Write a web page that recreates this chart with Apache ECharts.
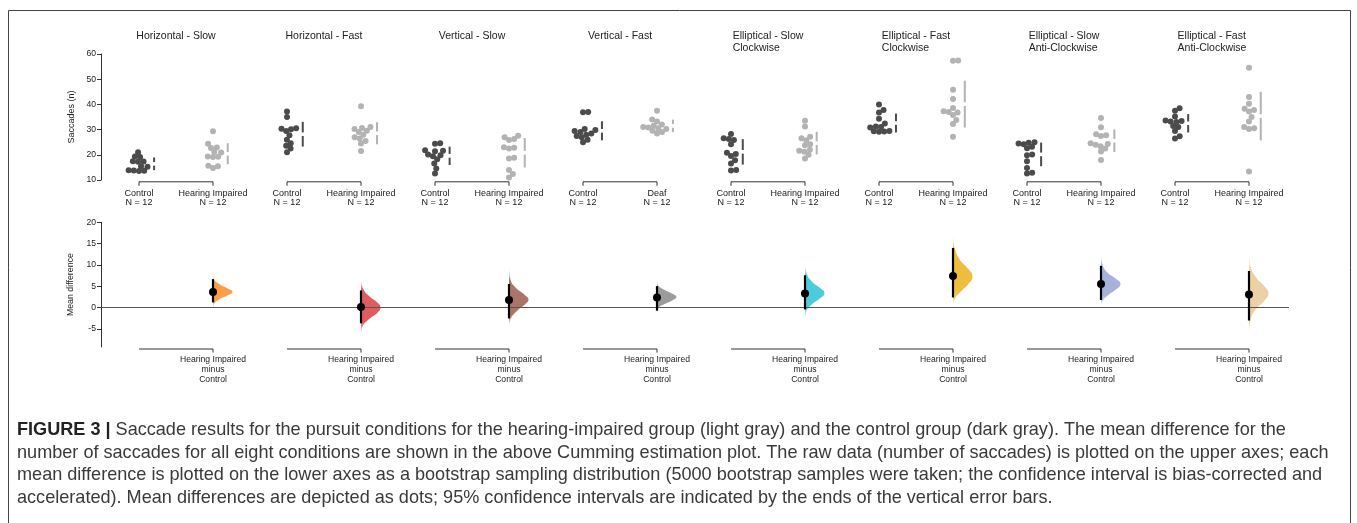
<!DOCTYPE html>
<html><head><meta charset="utf-8">
<script src="https://cdn.jsdelivr.net/npm/echarts@6/dist/echarts.min.js"></script>
<style>html,body{margin:0;padding:0;background:#fff;} #c{width:1357px;height:523px;}</style>
</head><body><div id="c"></div><script>
// ---------------- DATA ----------------
const panelTitles = ['Horizontal - Slow','Horizontal - Fast','Vertical - Slow','Vertical - Fast',
  'Elliptical - Slow\nClockwise','Elliptical - Fast\nClockwise','Elliptical - Slow\nAnti-Clockwise','Elliptical - Fast\nAnti-Clockwise'];
const controlNames = ['Control','Control','Control','Control','Control','Control','Control','Control'];
const testNames = ['Hearing Impaired','Hearing Impaired','Hearing Impaired','Deaf','Hearing Impaired','Hearing Impaired','Hearing Impaired','Hearing Impaired'];
const contrastLabel = 'Hearing Impaired\nminus\nControl';

const controlHS  = [21, 19.3, 19.1, 17.4, 17.3, 17.2, 15.5, 15.3, 13.9, 13.8, 13.7, 13.6];
const impairedHS = [29.3, 24.4, 22.9, 22.7, 21.1, 20.9, 19.3, 19.2, 19.1, 15.7, 15.5, 14.8];
const controlHF  = [37.2, 35, 30.5, 30.3, 30.1, 29.4, 27.8, 26, 24.6, 23.6, 22.5, 21];
const impairedHF = [39.3, 31, 30.6, 30.2, 29.5, 29, 28, 27, 26.5, 25.5, 24.5, 21.5];
const controlVS  = [24.6, 24.4, 21.8, 21.6, 21.4, 20.1, 19.8, 19.4, 18.2, 16.5, 14.6, 12.6];
const impairedVS = [27.6, 27, 26.3, 25.9, 23, 22.8, 22.5, 18.8, 18.5, 14, 12.4, 11];
const controlVF  = [37, 36.9, 30.2, 29.8, 29.4, 29, 28.5, 28, 27.5, 27, 26, 25];
const deafVF     = [37.5, 34, 33.2, 32, 31.5, 31, 30.8, 30.5, 30.2, 29.5, 29, 28.5];
const controlESC  = [28.3, 26.6, 26.3, 25.9, 24.2, 20.8, 20.3, 19.5, 17.8, 16.5, 14, 13.8];
const impairedESC = [33.5, 31.2, 27.2, 26.6, 25.8, 24.2, 23.8, 22, 21.6, 21.2, 20, 18.5];
const controlEFC  = [40, 37.8, 36.8, 34.3, 32.4, 31.2, 31, 30.8, 29.4, 29.3, 29.2, 29.1];
const impairedEFC = [57.4, 57.3, 45.8, 42.1, 38.6, 37.3, 37, 36.8, 35.8, 33.8, 32.2, 27.2];
const controlESA  = [25, 24.8, 24.5, 24.2, 23.2, 22.6, 20.1, 19.8, 17.4, 14.8, 12.9, 12.6];
const impairedESA = [34.6, 30.9, 28.2, 27.8, 27.5, 24.6, 24.3, 24, 23.4, 22.5, 21.3, 17.9];
const controlEFA  = [38.5, 37.5, 35.2, 33.6, 33.4, 33.2, 33, 31.4, 31, 29.4, 27.4, 26.5];
const impairedEFA = [54.5, 42.9, 40.3, 38.3, 37.8, 37.2, 35, 33.2, 31, 30.5, 30.2, 13.4];

const controlGroups = [controlHS, controlHF, controlVS, controlVF, controlESC, controlEFC, controlESA, controlEFA];
const testGroups = [impairedHS, impairedHF, impairedVS, deafVF, impairedESC, impairedEFC, impairedESA, impairedEFA];

const diffMeans = [3.7, 0.15, 1.8, 2.4, 3.3, 7.4, 5.55, 3.1];
const ciLow  = [1.25, -3.65, -2.5, -0.7, -0.4, 2.4, 1.8, -3.0];
const ciHigh = [6.7, 4.05, 5.55, 5.05, 7.6, 14.0, 9.8, 8.6];

// bootstrap distributions: [mean difference, relative density]
const violinHS  = [[8.0,0],[6.6,0.06],[5.5,0.34],[4.5,0.76],[3.7,1],[2.9,0.76],[2.0,0.34],[1.0,0.07],[-0.5,0]];
const violinHF  = [[7.0,0],[4.6,0.09],[2.6,0.44],[1.2,0.84],[0.1,1],[-1.2,0.84],[-2.6,0.44],[-4.3,0.09],[-6.4,0]];
const violinVS  = [[9.6,0],[6.6,0.07],[4.6,0.36],[3.1,0.78],[1.9,1],[0.7,0.8],[-0.7,0.42],[-2.6,0.09],[-4.8,0]];
const violinVF  = [[6.5,0],[5.1,0.09],[4.1,0.42],[3.2,0.82],[2.5,1],[1.7,0.78],[0.8,0.36],[-0.1,0.07],[-1.7,0]];
const violinESC = [[10.4,0],[8.1,0.07],[6.1,0.36],[4.6,0.78],[3.4,1],[2.2,0.78],[0.8,0.36],[-0.8,0.07],[-2.9,0]];
const violinEFC = [[17.4,0],[14.2,0.07],[11.2,0.36],[9.1,0.78],[7.3,1],[5.5,0.78],[3.6,0.36],[1.7,0.07],[-0.2,0]];
const violinESA = [[12.8,0],[10.2,0.07],[8.1,0.36],[6.7,0.78],[5.5,1],[4.3,0.78],[2.9,0.36],[1.4,0.07],[0.2,0]];
const violinEFA = [[12.8,0],[9.8,0.07],[7.1,0.36],[5.1,0.78],[3.3,1],[1.6,0.78],[-0.3,0.36],[-2.9,0.07],[-7.2,0]];
const violinProfiles = [violinHS, violinHF, violinVS, violinVF, violinESC, violinEFC, violinESA, violinEFA];

const upperTicks = [10, 20, 30, 40, 50, 60];
const lowerTicks = [-5, 0, 5, 10, 15, 20];

const captionLines = [
  '{b|FIGURE 3 |} Saccade results for the pursuit conditions for the hearing-impaired group (light gray) and the control group (dark gray). The mean difference for the',
  'number of saccades for all eight conditions are shown in the above Cumming estimation plot. The raw data (number of saccades) is plotted on the upper axes; each',
  'mean difference is plotted on the lower axes as a bootstrap sampling distribution (5000 bootstrap samples were taken; the confidence interval is bias-corrected and',
  'accelerated). Mean differences are depicted as dots; 95% confidence intervals are indicated by the ends of the vertical error bars.'
];

// ---------------- STYLE / LAYOUT ----------------
const FONT = '"Liberation Sans", Arial, Helvetica, sans-serif';
const diffColors = ['#fd9538', '#dc4f51', '#a4695c', '#939393', '#3fc7d8', '#ebb82e', '#9dabd6', '#ebcd9e'];
const CTRL_COLOR = '#4b4b4b', TEST_COLOR = '#b3b3b3', AXIS_COLOR = '#333';
const GRID_LEFT = 101, GRID_W = 1188;
const X_MIN = -38 / 74, X_MAX = 1150 / 74;
const UP_TOP = 54, UP_H = 126, UP_MIN = 10, UP_MAX = 60;
const LO_TOP = 222.3, LO_H = 124.7, LO_MIN = -9.2, LO_MAX = 20;
const DOT = 6, R = 2.6, VIOLIN_W = 19.5;
const pxPerX = GRID_W / (X_MAX - X_MIN);
const pxPerYUp = UP_H / (UP_MAX - UP_MIN);

function swarm(values) {
  const pts = values.map((v, i) => ({ y: v * pxPerYUp, i, x: 0 }));
  pts.sort((a, b) => a.y - b.y);
  const placed = [], off = new Array(values.length);
  for (const p of pts) {
    const cands = [0];
    for (const q of placed) {
      const dy = Math.abs(p.y - q.y);
      if (dy < 2 * R) { const dx = Math.sqrt(4 * R * R - dy * dy); cands.push(q.x + dx, q.x - dx); }
    }
    cands.sort((a, b) => Math.abs(a) - Math.abs(b));
    for (const c of cands) {
      if (placed.every(q => (q.x - c) ** 2 + (q.y - p.y) ** 2 >= 4 * R * R - 1e-6)) { p.x = c; break; }
    }
    placed.push(p); off[p.i] = p.x;
  }
  return off;
}
function mean(a) { return a.reduce((s, v) => s + v, 0) / a.length; }
function sd(a) { const m = mean(a); return Math.sqrt(a.reduce((s, v) => s + (v - m) ** 2, 0) / (a.length - 1)); }

const ctrlDots = [], testDots = [], ctrlGap = [], testGap = [];
function addGroup(vals, xc, dots, gaps) {
  const off = swarm(vals);
  vals.forEach((v, i) => dots.push([xc + off[i] / pxPerX, v]));
  const maxOff = Math.max(...off);
  gaps.push([xc + (maxOff + R + 4) / pxPerX, mean(vals), sd(vals)]);
}
controlGroups.forEach((g, k) => addGroup(g, 2 * k, ctrlDots, ctrlGap));
testGroups.forEach((g, k) => addGroup(g, 2 * k + 1, testDots, testGap));

const brackets = panelTitles.map((t, k) => [2 * k, 2 * k + 1]);
const violinData = diffMeans.map((m, k) => [2 * k + 1, k]);
const ciData = diffMeans.map((m, k) => [2 * k + 1, ciLow[k], ciHigh[k]]);
const diffDots = diffMeans.map((m, k) => [2 * k + 1, m]);

// title placement: text block centred over each panel, lines left-aligned
const mctx = document.createElement('canvas').getContext('2d');
mctx.font = '10.5px ' + FONT;
const titles = panelTitles.map((t, k) => {
  const w = Math.max(...t.split('\n').map(s => mctx.measureText(s).width));
  const cx = GRID_LEFT + (2 * k + 0.5 - X_MIN) * pxPerX;
  return { text: t, left: cx - w / 2, top: 30, padding: 0,
    textStyle: { fontFamily: FONT, fontSize: 10.5, fontWeight: 'normal', color: '#222', lineHeight: 11.8 } };
});
titles.push({ text: captionLines.join('\n'), left: 17, top: 419, padding: 0,
  textStyle: { fontFamily: FONT, fontSize: 18.1, fontWeight: 'normal', color: '#3a3a3a', lineHeight: 22.5,
    rich: { b: { fontFamily: FONT, fontSize: 18.1, fontWeight: 'bold', color: '#222', lineHeight: 22.5 } } } });

const upperLabelVals = []; for (let i = 0; i < 16; i++) upperLabelVals.push(i);
const lowerLabelVals = []; for (let i = 1; i < 16; i += 2) lowerLabelVals.push(i);

function lineEl(x1, y1, x2, y2, color, w) {
  return { type: 'line', shape: { x1, y1, x2, y2 }, style: { stroke: color, lineWidth: w } };
}
function fade(hex) {
  const n = parseInt(hex.slice(1), 16), r = n >> 16, g = (n >> 8) & 255, b = n & 255;
  const c = a => `rgba(${r},${g},${b},${a})`;
  return { type: 'linear', x: 0, y: 0, x2: 0, y2: 1,
    colorStops: [{ offset: 0, color: c(0.05) }, { offset: 0.22, color: c(0.92) }, { offset: 0.78, color: c(0.92) }, { offset: 1, color: c(0.05) }] };
}

const chart = echarts.init(document.getElementById('c'), null, { renderer: 'canvas' });
chart.setOption({
  animation: false,
  backgroundColor: '#fff',
  title: titles,
  graphic: [{ type: 'rect', shape: { x: 8.5, y: 10.5, width: 1342, height: 540 },
    style: { fill: 'none', stroke: '#444', lineWidth: 1 }, silent: true }],
  grid: [
    { left: GRID_LEFT, top: UP_TOP, width: GRID_W, height: UP_H },
    { left: GRID_LEFT, top: LO_TOP, width: GRID_W, height: LO_H }
  ],
  xAxis: [
    { gridIndex: 0, type: 'value', min: X_MIN, max: X_MAX, axisLine: { show: false, onZero: false }, axisTick: { show: false },
      splitLine: { show: false },
      axisLabel: { customValues: upperLabelVals, margin: 8.5, fontFamily: FONT, fontSize: 9, color: '#222', lineHeight: 9.5,
        formatter: v => { const k = Math.floor(v / 2); const g = v % 2 === 0 ? controlGroups[k] : testGroups[k];
          const name = v % 2 === 0 ? controlNames[k] : testNames[k]; return name + '\nN = ' + g.length; } } },
    { gridIndex: 1, type: 'value', min: X_MIN, max: X_MAX, axisLine: { show: false, onZero: false }, axisTick: { show: false },
      splitLine: { show: false },
      axisLabel: { customValues: lowerLabelVals, margin: 8, fontFamily: FONT, fontSize: 8.6, color: '#222', lineHeight: 9.7,
        formatter: () => contrastLabel } }
  ],
  yAxis: [
    { gridIndex: 0, type: 'value', min: UP_MIN, max: UP_MAX, interval: 10,
      name: 'Saccades (n)', nameLocation: 'middle', nameGap: 20,
      nameTextStyle: { fontFamily: FONT, fontSize: 9, color: '#222' },
      axisLine: { show: true, onZero: false, lineStyle: { color: AXIS_COLOR, width: 1 } },
      axisTick: { show: true, length: 4, lineStyle: { color: AXIS_COLOR } },
      axisLabel: { customValues: upperTicks, margin: 5, fontFamily: FONT, fontSize: 8.6, color: '#222' },
      splitLine: { show: false } },
    { gridIndex: 1, type: 'value', min: LO_MIN, max: LO_MAX,
      name: 'Mean difference', nameLocation: 'middle', nameGap: 19.5,
      nameTextStyle: { fontFamily: FONT, fontSize: 8.8, color: '#222' },
      axisLine: { show: true, onZero: false, lineStyle: { color: AXIS_COLOR, width: 1 } },
      axisTick: { show: true, length: 4, customValues: lowerTicks, lineStyle: { color: AXIS_COLOR } },
      axisLabel: { customValues: lowerTicks, margin: 5, fontFamily: FONT, fontSize: 8.6, color: '#222' },
      splitLine: { show: false } }
  ],
  series: [
    { type: 'custom', name: 'brackets-up', xAxisIndex: 0, yAxisIndex: 0, clip: false, silent: true,
      data: brackets,
      renderItem: (p, api) => {
        const a = api.coord([api.value(0), UP_MIN]), b = api.coord([api.value(1), UP_MIN]);
        const y = a[1] + 1.8;
        return { type: 'polyline', shape: { points: [[a[0], y + 4], [a[0], y], [b[0], y], [b[0], y + 4]] },
          style: { stroke: AXIS_COLOR, lineWidth: 1, fill: 'none' } };
      } },
    { type: 'custom', name: 'brackets-low', xAxisIndex: 1, yAxisIndex: 1, clip: false, silent: true,
      data: brackets,
      renderItem: (p, api) => {
        const a = api.coord([api.value(0), LO_MIN]), b = api.coord([api.value(1), LO_MIN]);
        const y = a[1] + 2;
        return { type: 'polyline', shape: { points: [[a[0], y], [b[0], y], [b[0], y + 3.5]] },
          style: { stroke: AXIS_COLOR, lineWidth: 1, fill: 'none' } };
      } },
    { type: 'scatter', name: 'Control', xAxisIndex: 0, yAxisIndex: 0, data: ctrlDots, symbolSize: DOT,
      itemStyle: { color: CTRL_COLOR, opacity: 1 } },
    { type: 'scatter', name: 'Hearing impaired', xAxisIndex: 0, yAxisIndex: 0, data: testDots, symbolSize: DOT,
      itemStyle: { color: TEST_COLOR, opacity: 1 } },
    ...[[ctrlGap, CTRL_COLOR], [testGap, TEST_COLOR]].map(([d, col]) => ({
      type: 'custom', xAxisIndex: 0, yAxisIndex: 0, data: d, silent: true,
      renderItem: (p, api) => {
        const x = api.value(0), m = api.value(1), s = api.value(2);
        const t = api.coord([x, m + s]), c = api.coord([x, m]), b = api.coord([x, m - s]);
        return { type: 'group', children: [lineEl(t[0], t[1], c[0], c[1] - 1.8, col, 2), lineEl(c[0], c[1] + 1.8, b[0], b[1], col, 2)] };
      } })),
    { type: 'custom', name: 'bootstrap', xAxisIndex: 1, yAxisIndex: 1, data: violinData, silent: true,
      renderItem: (p, api) => {
        const xh = api.value(0), k = api.value(1);
        const pts = violinProfiles[k].map(([v, d]) => { const c = api.coord([xh, v]); return [c[0] + d * VIOLIN_W, c[1]]; });
        const ys = pts.map(q => q[1]);
        const box = [[pts[0][0], Math.min(...ys)], [pts[0][0] + VIOLIN_W, Math.max(...ys)]];
        return { type: 'polygon', shape: { points: pts, smooth: 0.5, smoothConstraint: box },
          style: { fill: fade(diffColors[k]) } };
      },
      markLine: { silent: true, symbol: 'none', label: { show: false },
        lineStyle: { color: '#555', width: 1, type: 'solid' }, data: [{ yAxis: 0 }] } },
    { type: 'custom', name: 'ci', xAxisIndex: 1, yAxisIndex: 1, data: ciData, silent: true, z: 5,
      renderItem: (p, api) => {
        const a = api.coord([api.value(0), api.value(1)]), b = api.coord([api.value(0), api.value(2)]);
        return lineEl(a[0], a[1], b[0], b[1], '#000', 2.2);
      } },
    { type: 'scatter', name: 'Mean difference', xAxisIndex: 1, yAxisIndex: 1, data: diffDots, symbolSize: 8, z: 6,
      itemStyle: { color: '#000', opacity: 1 } }
  ]
});
</script></body></html>
